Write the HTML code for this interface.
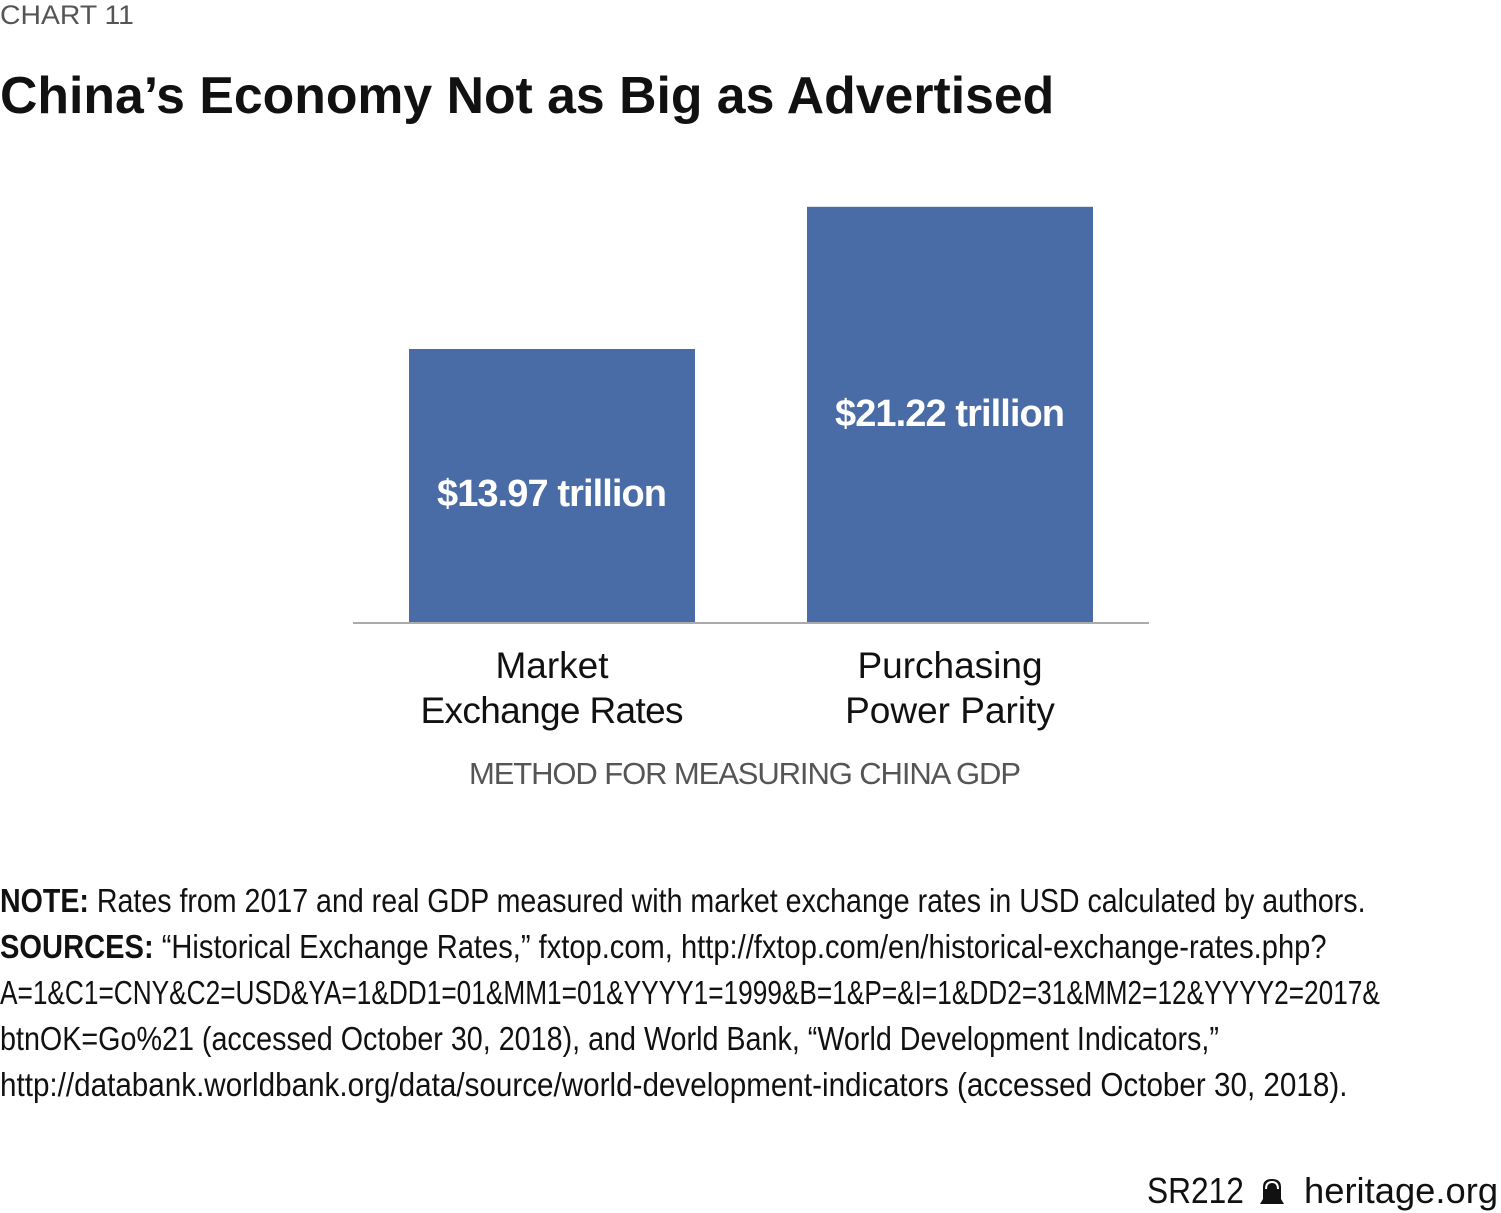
<!DOCTYPE html>
<html><head><meta charset="utf-8"><style>
body{margin:0;width:1501px;height:1213px;background:#fff;position:relative;overflow:hidden;font-family:"Liberation Sans",sans-serif;color:#111}
.t{position:absolute;white-space:nowrap;transform-origin:left top}
.n{font-size:33px;line-height:46px}
</style></head><body>
<div class="t" style="left:0;top:0;font-size:27px;color:#555;transform:scaleX(1.05)">CHART 11</div>
<div class="t" style="left:0;top:66px;font-size:52px;font-weight:bold;transform:scaleX(0.995)">China’s Economy Not as Big as Advertised</div>
<svg id="chart" style="position:absolute;left:0;top:0" width="1501" height="860"></svg>
<div class="n t" style="left:0;top:878px;transform:scaleX(0.866)"><b>NOTE:</b> Rates from 2017 and real GDP measured with market exchange rates in USD calculated by authors.</div>
<div class="n t" style="left:0;top:924px;transform:scaleX(0.882)"><b>SOURCES:</b> “Historical Exchange Rates,” fxtop.com, http://fxtop.com/en/historical-exchange-rates.php?</div>
<div class="n t" style="left:0;top:970px;transform:scaleX(0.795)">A=1&amp;C1=CNY&amp;C2=USD&amp;YA=1&amp;DD1=01&amp;MM1=01&amp;YYYY1=1999&amp;B=1&amp;P=&amp;I=1&amp;DD2=31&amp;MM2=12&amp;YYYY2=2017&amp;</div>
<div class="n t" style="left:0;top:1016px;transform:scaleX(0.87)">btnOK=Go%21 (accessed October 30, 2018), and World Bank, “World Development Indicators,”</div>
<div class="n t" style="left:0;top:1062px;transform:scaleX(0.898)">http://databank.worldbank.org/data/source/world-development-indicators (accessed October 30, 2018).</div>
<div class="t" style="left:1147px;top:1170px;font-size:36px;transform:scaleX(0.88)">SR212</div>
<svg style="position:absolute;left:1258px;top:1177px" width="28" height="28"><path d="M2 27 L26 27 L23 22 L23 10 Q23 2 14 2 Q5 2 5 10 L5 22 Z" fill="#111"/><path d="M8 12 Q8 5 14 5 Q20 5 20 12" fill="none" stroke="#fff" stroke-width="2"/></svg>
<div class="t" style="left:1304px;top:1170px;font-size:36px;transform:scaleX(1.01)">heritage.org</div>
<script>
const categories=[["Market","Exchange Rates"],["Purchasing","Power Parity"]];
const values=[13.97,21.22];
const labels=["$13.97 trillion","$21.22 trillion"];
const svg=document.getElementById('chart');const NS="http://www.w3.org/2000/svg";
const base=623,scale=274/13.97;
const y=v=>base-v*scale;
const x=i=>409+i*398;
values.forEach((v,i)=>{
 const r=document.createElementNS(NS,'rect');
 r.setAttribute('x',x(i));r.setAttribute('y',y(v));r.setAttribute('width',286);r.setAttribute('height',base-y(v));r.setAttribute('fill','#4a6ca6');
 
 
 svg.appendChild(r);
 const t=document.createElementNS(NS,'text');
 t.setAttribute('x',x(i)+143);t.setAttribute('y',y(v)+(i==0?157:219));t.setAttribute('text-anchor','middle');
 t.setAttribute('fill','#fff');t.setAttribute('font-size','38');t.setAttribute('font-weight','bold');t.setAttribute('textLength','230');
 t.textContent=labels[i];
 
 
 svg.appendChild(t);
 categories[i].forEach((s,j)=>{
  const c=document.createElementNS(NS,'text');
  c.setAttribute('x',x(i)+143);c.setAttribute('y',678+j*45);c.setAttribute('text-anchor','middle');
  c.setAttribute('font-size','37');c.setAttribute('fill','#111');
  if(s==="Exchange Rates")c.setAttribute('textLength','263');
  c.textContent=s;
  
  
  svg.appendChild(c);
 });
});
const l=document.createElementNS(NS,'line');
l.setAttribute('x1',353);l.setAttribute('x2',1149);l.setAttribute('y1',base);l.setAttribute('y2',base);l.setAttribute('stroke','#aaa');l.setAttribute('stroke-width',2);


svg.appendChild(l);
const a=document.createElementNS(NS,'text');
a.setAttribute('x',745);a.setAttribute('y',784);a.setAttribute('text-anchor','middle');a.setAttribute('font-size','31');a.setAttribute('fill','#555');a.setAttribute('textLength','552');
a.textContent="METHOD FOR MEASURING CHINA GDP";


svg.appendChild(a);
</script>
</body></html>
